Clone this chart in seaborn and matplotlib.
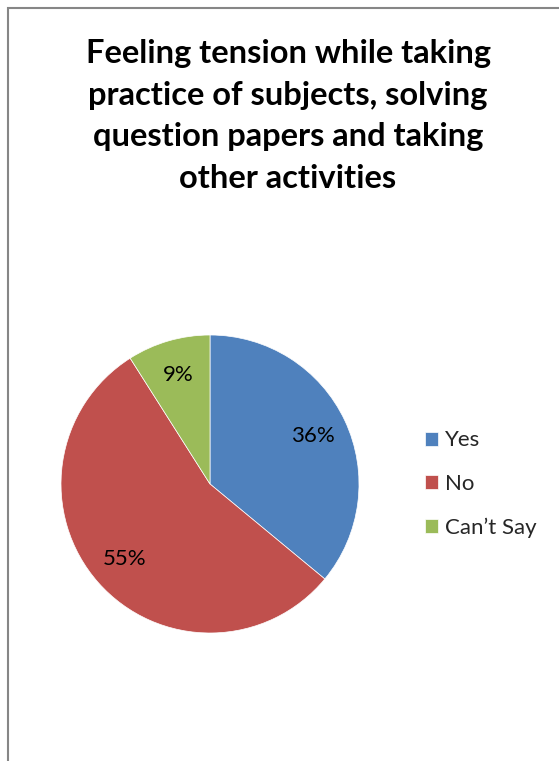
import matplotlib
matplotlib.use("Agg")
import matplotlib.pyplot as plt
import seaborn as sns
from matplotlib.patches import Rectangle

categories = ["Yes", "No", "Can\u2019t Say"]
values = [36, 55, 9]
colors = ["#4F81BD", "#C0504D", "#9BBB59"]
title = "Feeling tension while taking\npractice of subjects, solving\nquestion papers and taking\nother activities"

sns.set_theme(style="white")
plt.rcParams["font.family"] = ["Lato", "DejaVu Sans"]

W, H = 559, 761
fig = plt.figure(figsize=(W / 100, H / 100), dpi=100)
fig.patch.set_facecolor("white")

# border (top and left visible, extends past right/bottom)
fig.add_artist(Rectangle((8 / W, -0.05), 1.2, (H - 8) / H + 0.05, transform=fig.transFigure,
                         fill=False, edgecolor="#868686", linewidth=1.5))

fig.text(288 / W, 1 - 116 / H, title, ha="center", va="center", fontsize=23.5,
         fontweight="bold", linespacing=1.52, color="black")

cx, cy, r = 210, 484, 149
ax = fig.add_axes([(cx - r) / W, 1 - (cy + r) / H, 2 * r / W, 2 * r / H])
wedges, texts, autotexts = ax.pie(values, colors=colors, startangle=90, counterclock=False,
                                  autopct="%.0f%%", pctdistance=0.76, radius=1,
                                  wedgeprops=dict(linewidth=0.5, edgecolor="white"),
                                  textprops=dict(fontsize=16, color="black"))
ax.set_xlim(-1, 1)
ax.set_ylim(-1, 1)
ax.set_aspect("equal")
ax.axis("off")

leg = fig.legend(wedges, categories, loc="center left", bbox_to_anchor=(414 / W, 1 - 484 / H),
                 frameon=False, fontsize=16, handlelength=0.6, handleheight=0.6,
                 labelspacing=1.05, handletextpad=0.3, borderpad=0)

fig.savefig("out.png", dpi=100, facecolor="white")
